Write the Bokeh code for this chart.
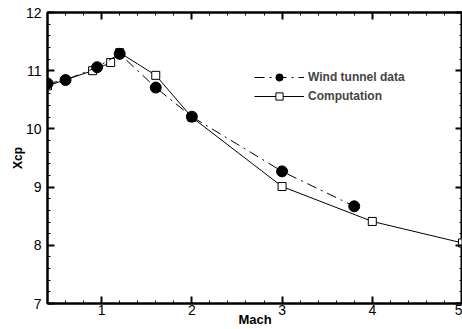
from bokeh.plotting import figure
from bokeh.models import LinearAxis, Legend, LegendItem, Range1d, FixedTicker
from bokeh.embed import file_html
from bokeh.resources import INLINE

wind_mach = [0.4, 0.6, 0.95, 1.2, 1.6, 2.0, 3.0, 3.8]
wind_xcp = [10.78, 10.84, 11.06, 11.29, 10.71, 10.21, 9.27, 8.67]
comp_mach = [0.4, 0.9, 1.1, 1.2, 1.6, 2.0, 3.0, 4.0, 5.0]
comp_xcp = [10.74, 11.0, 11.14, 11.31, 10.92, 10.2, 9.01, 8.41, 8.04]
x_ticks = [1, 2, 3, 4, 5]
y_ticks = [7, 8, 9, 10, 11, 12]
x_title = "Mach"
y_title = "Xcp"

FONT = "Liberation Sans"

p = figure(width=462, height=329, output_backend="svg", toolbar_location=None,
           x_range=Range1d(0.4, 5.0), y_range=Range1d(7, 12),
           min_border_left=47, min_border_right=0, min_border_top=12, min_border_bottom=25)
p.background_fill_color = "white"
p.border_fill_color = "white"
p.grid.visible = False
p.outline_line_color = "black"
p.outline_line_width = 2

minor_x = [0.4 + 0.2 * i for i in range(24)]
minor_y = [7 + 0.2 * i for i in range(26)]

def style(ax, ticks, minor, show_labels):
    ax.ticker = FixedTicker(ticks=ticks, minor_ticks=minor)
    ax.axis_line_color = "black"
    ax.axis_line_width = 2
    ax.major_tick_in = 7
    ax.major_tick_out = 0
    ax.minor_tick_in = 3
    ax.minor_tick_out = 0
    ax.major_tick_line_width = 2
    ax.major_tick_line_color = "black"
    ax.minor_tick_line_color = "black"
    if show_labels:
        ax.major_label_text_font = FONT
        ax.major_label_text_font_size = "14px"
        ax.major_label_text_color = "black"
        ax.major_label_standoff = 2
        ax.axis_label_text_font = FONT
        ax.axis_label_text_font_style = "bold"
        ax.axis_label_text_font_size = "12px"
        ax.axis_label_text_color = "black"
        ax.axis_label_standoff = 0
    else:
        ax.major_label_overrides = {t: "" for t in ticks}
        ax.major_label_standoff = 0

style(p.xaxis[0], x_ticks, minor_x, True)
style(p.yaxis[0], y_ticks, minor_y, True)
p.xaxis[0].axis_label = x_title
p.xaxis[0].axis_label_text_font_size = "13px"
p.xaxis[0].major_label_standoff = 1
p.xaxis[0].axis_label_standoff = -6
p.yaxis[0].axis_label = y_title
p.yaxis[0].major_label_standoff = 6
p.yaxis[0].axis_label_standoff = -2

top = LinearAxis()
style(top, x_ticks, minor_x, False)
p.add_layout(top, "above")
right = LinearAxis()
style(right, y_ticks, minor_y, False)
p.add_layout(right, "right")

comp_line = p.line(comp_mach, comp_xcp, line_color="black", line_width=1)
comp_sq = p.scatter(comp_mach, comp_xcp, marker="square", size=8,
                    fill_color="white", line_color="black", line_width=1)
wind_line = p.line(wind_mach, wind_xcp, line_color="black", line_width=1,
                   line_dash="10 5 2 5")
wind_pt = p.scatter(wind_mach, wind_xcp, marker="circle", size=11,
                    fill_color="black", line_color="black")

legend = Legend(items=[LegendItem(label="Wind tunnel data", renderers=[wind_line, wind_pt]),
                       LegendItem(label="Computation", renderers=[comp_line, comp_sq])],
                location=(207, 198), padding=0, margin=0, spacing=1,
                glyph_width=50, glyph_height=18, label_standoff=4,
                label_text_font=FONT, label_text_font_style="bold",
                label_text_font_size="12px",
                border_line_color=None, background_fill_alpha=0)
p.add_layout(legend, "center")

open("out.html", "w").write(file_html(p, INLINE))
